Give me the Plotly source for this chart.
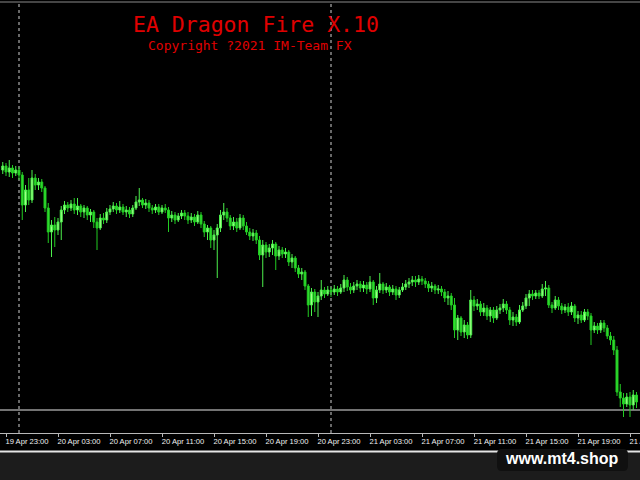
import plotly.graph_objects as go
import pandas as pd

# ---- data (M15 bars) ----
bar_start = "2021-04-19 22:45"
bar_freq = "15min"

opens = [
    1.2030, 1.2034, 1.2028, 1.2032, 1.2027, 1.2030, 1.2025, 1.1995, 1.2010, 1.2000,
    1.2022, 1.2015, 1.2018, 1.2012, 1.1992, 1.1968, 1.1975, 1.1970, 1.1978, 1.1990,
    1.1995, 1.1992, 1.1996, 1.1990, 1.1994, 1.1988, 1.1992, 1.1985, 1.1988, 1.1978,
    1.1972, 1.1982, 1.1980, 1.1988, 1.1991, 1.1994, 1.1990, 1.1993, 1.1988, 1.1990,
    1.1986, 1.1992, 1.1998, 1.2000, 1.1995, 1.1997, 1.1992, 1.1990, 1.1993, 1.1988,
    1.1992, 1.1990, 1.1982, 1.1985, 1.1980, 1.1984, 1.1987, 1.1984, 1.1980, 1.1983,
    1.1978, 1.1985, 1.1976, 1.1968, 1.1972, 1.1960, 1.1965, 1.1972, 1.1985, 1.1988,
    1.1982, 1.1974, 1.1978, 1.1972, 1.1982, 1.1974, 1.1968, 1.1964, 1.1967, 1.1960,
    1.1945, 1.1955, 1.1948, 1.1952, 1.1956, 1.1944, 1.1950, 1.1946, 1.1948, 1.1938,
    1.1942, 1.1932, 1.1926, 1.1928, 1.1914, 1.1895, 1.1908, 1.1898, 1.1904, 1.1910,
    1.1906, 1.1910, 1.1908, 1.1911, 1.1908, 1.1912, 1.1920, 1.1913, 1.1910, 1.1914,
    1.1916, 1.1912, 1.1915, 1.1911, 1.1918, 1.1902, 1.1910, 1.1916, 1.1910, 1.1913,
    1.1908, 1.1911, 1.1905, 1.1910, 1.1913, 1.1916, 1.1918, 1.1920, 1.1918, 1.1921,
    1.1919, 1.1916, 1.1912, 1.1914, 1.1910, 1.1911, 1.1908, 1.1902, 1.1904, 1.1895,
    1.1870, 1.1882, 1.1868, 1.1875, 1.1865, 1.1900, 1.1894, 1.1896, 1.1888, 1.1892,
    1.1884, 1.1890, 1.1882, 1.1890, 1.1892, 1.1896, 1.1890, 1.1880, 1.1883, 1.1878,
    1.1890, 1.1894, 1.1902, 1.1906, 1.1904, 1.1907, 1.1904, 1.1911, 1.1912, 1.1895,
    1.1892, 1.1900, 1.1894, 1.1890, 1.1893, 1.1888, 1.1894, 1.1882, 1.1885, 1.1880,
    1.1888, 1.1884, 1.1870, 1.1874, 1.1870, 1.1877, 1.1872, 1.1864, 1.1860, 1.1850,
    1.1808, 1.1802, 1.1796, 1.1803, 1.1795, 1.1805,
]

highs = [
    1.2038, 1.2037, 1.2040, 1.2035, 1.2034, 1.2033, 1.2028, 1.2015, 1.2022, 1.2030,
    1.2026, 1.2022, 1.2021, 1.2014, 1.1997, 1.1980, 1.1983, 1.1982, 1.1994, 1.1999,
    1.1998, 1.2000, 1.2002, 1.2002, 1.1996, 1.1995, 1.1994, 1.1991, 1.1990, 1.1982,
    1.1986, 1.1987, 1.1992, 1.1995, 1.1998, 1.1997, 1.1999, 1.1996, 1.1994, 1.1993,
    1.1995, 1.2004, 1.2012, 1.2002, 1.2001, 1.2000, 1.1995, 1.1996, 1.1996, 1.1995,
    1.1996, 1.1993, 1.1989, 1.1988, 1.1987, 1.1990, 1.1990, 1.1988, 1.1987, 1.1986,
    1.1989, 1.1988, 1.1979, 1.1975, 1.1974, 1.1970, 1.1976, 1.1990, 1.1997, 1.1992,
    1.1985, 1.1983, 1.1982, 1.1986, 1.1985, 1.1978, 1.1972, 1.1971, 1.1970, 1.1964,
    1.1960, 1.1958, 1.1956, 1.1960, 1.1958, 1.1954, 1.1953, 1.1952, 1.1950, 1.1946,
    1.1944, 1.1935, 1.1932, 1.1930, 1.1916, 1.1912, 1.1911, 1.1908, 1.1920, 1.1913,
    1.1914, 1.1913, 1.1915, 1.1914, 1.1916, 1.1925, 1.1923, 1.1917, 1.1918, 1.1920,
    1.1919, 1.1919, 1.1918, 1.1924, 1.1920, 1.1914, 1.1927, 1.1918, 1.1917, 1.1915,
    1.1915, 1.1914, 1.1913, 1.1917, 1.1920, 1.1922, 1.1924, 1.1924, 1.1925, 1.1924,
    1.1922, 1.1919, 1.1918, 1.1916, 1.1915, 1.1914, 1.1911, 1.1909, 1.1907, 1.1902,
    1.1885, 1.1884, 1.1880, 1.1878, 1.1910, 1.1904, 1.1901, 1.1899, 1.1897, 1.1895,
    1.1893, 1.1893, 1.1894, 1.1896, 1.1901, 1.1899, 1.1893, 1.1888, 1.1886, 1.1895,
    1.1898, 1.1906, 1.1910, 1.1910, 1.1910, 1.1910, 1.1916, 1.1919, 1.1915, 1.1898,
    1.1904, 1.1903, 1.1897, 1.1896, 1.1897, 1.1898, 1.1896, 1.1889, 1.1889, 1.1891,
    1.1891, 1.1887, 1.1878, 1.1877, 1.1880, 1.1880, 1.1875, 1.1868, 1.1864, 1.1854,
    1.1816, 1.1807, 1.1807, 1.1808, 1.1810, 1.1808,
]

lows = [
    1.2026, 1.2024, 1.2023, 1.2022, 1.2024, 1.2020, 1.1980, 1.1988, 1.1995, 1.1997,
    1.2010, 1.2010, 1.2008, 1.1988, 1.1957, 1.1943, 1.1953, 1.1965, 1.1960, 1.1986,
    1.1988, 1.1989, 1.1986, 1.1985, 1.1983, 1.1982, 1.1980, 1.1978, 1.1972, 1.1950,
    1.1970, 1.1976, 1.1977, 1.1985, 1.1988, 1.1986, 1.1987, 1.1985, 1.1983, 1.1982,
    1.1983, 1.1990, 1.1994, 1.1992, 1.1991, 1.1988, 1.1986, 1.1987, 1.1985, 1.1986,
    1.1987, 1.1968, 1.1978, 1.1976, 1.1978, 1.1981, 1.1980, 1.1976, 1.1977, 1.1974,
    1.1976, 1.1972, 1.1963, 1.1960, 1.1952, 1.1950, 1.1922, 1.1968, 1.1980, 1.1978,
    1.1970, 1.1970, 1.1968, 1.1970, 1.1970, 1.1965, 1.1960, 1.1959, 1.1956, 1.1940,
    1.1913, 1.1942, 1.1943, 1.1945, 1.1930, 1.1940, 1.1942, 1.1942, 1.1934, 1.1932,
    1.1928, 1.1922, 1.1920, 1.1910, 1.1883, 1.1884, 1.1888, 1.1883, 1.1900, 1.1902,
    1.1904, 1.1903, 1.1905, 1.1904, 1.1906, 1.1908, 1.1909, 1.1906, 1.1907, 1.1910,
    1.1908, 1.1908, 1.1906, 1.1908, 1.1895, 1.1897, 1.1907, 1.1906, 1.1907, 1.1904,
    1.1905, 1.1900, 1.1902, 1.1908, 1.1910, 1.1912, 1.1914, 1.1913, 1.1915, 1.1915,
    1.1912, 1.1908, 1.1908, 1.1906, 1.1906, 1.1904, 1.1898, 1.1895, 1.1890, 1.1862,
    1.1860, 1.1864, 1.1862, 1.1861, 1.1862, 1.1889, 1.1890, 1.1884, 1.1884, 1.1880,
    1.1878, 1.1877, 1.1880, 1.1886, 1.1888, 1.1886, 1.1875, 1.1874, 1.1874, 1.1876,
    1.1888, 1.1891, 1.1894, 1.1900, 1.1901, 1.1901, 1.1902, 1.1904, 1.1892, 1.1887,
    1.1890, 1.1890, 1.1886, 1.1887, 1.1884, 1.1885, 1.1878, 1.1876, 1.1877, 1.1878,
    1.1880, 1.1855, 1.1867, 1.1866, 1.1867, 1.1868, 1.1861, 1.1855, 1.1845, 1.1804,
    1.1793, 1.1783, 1.1793, 1.1783, 1.1790, 1.1792,
]

closes = [
    1.2034, 1.2028, 1.2032, 1.2027, 1.2030, 1.2025, 1.1995, 1.2010, 1.2000, 1.2022,
    1.2015, 1.2018, 1.2012, 1.1992, 1.1968, 1.1975, 1.1970, 1.1978, 1.1990, 1.1995,
    1.1992, 1.1996, 1.1990, 1.1994, 1.1988, 1.1992, 1.1985, 1.1988, 1.1978, 1.1972,
    1.1982, 1.1980, 1.1988, 1.1991, 1.1994, 1.1990, 1.1993, 1.1988, 1.1990, 1.1986,
    1.1992, 1.1998, 1.2000, 1.1995, 1.1997, 1.1992, 1.1990, 1.1993, 1.1988, 1.1992,
    1.1990, 1.1982, 1.1985, 1.1980, 1.1984, 1.1987, 1.1984, 1.1980, 1.1983, 1.1978,
    1.1985, 1.1976, 1.1968, 1.1972, 1.1960, 1.1965, 1.1972, 1.1985, 1.1988, 1.1982,
    1.1974, 1.1978, 1.1972, 1.1982, 1.1974, 1.1968, 1.1964, 1.1967, 1.1960, 1.1945,
    1.1955, 1.1948, 1.1952, 1.1956, 1.1944, 1.1950, 1.1946, 1.1948, 1.1938, 1.1942,
    1.1932, 1.1926, 1.1928, 1.1914, 1.1895, 1.1908, 1.1898, 1.1904, 1.1910, 1.1906,
    1.1910, 1.1908, 1.1911, 1.1908, 1.1912, 1.1920, 1.1913, 1.1910, 1.1914, 1.1916,
    1.1912, 1.1915, 1.1911, 1.1918, 1.1902, 1.1910, 1.1916, 1.1910, 1.1913, 1.1908,
    1.1911, 1.1905, 1.1910, 1.1913, 1.1916, 1.1918, 1.1920, 1.1918, 1.1921, 1.1919,
    1.1916, 1.1912, 1.1914, 1.1910, 1.1911, 1.1908, 1.1902, 1.1904, 1.1895, 1.1870,
    1.1882, 1.1868, 1.1875, 1.1865, 1.1900, 1.1894, 1.1896, 1.1888, 1.1892, 1.1884,
    1.1890, 1.1882, 1.1890, 1.1892, 1.1896, 1.1890, 1.1880, 1.1883, 1.1878, 1.1890,
    1.1894, 1.1902, 1.1906, 1.1904, 1.1907, 1.1904, 1.1911, 1.1912, 1.1895, 1.1892,
    1.1900, 1.1894, 1.1890, 1.1893, 1.1888, 1.1894, 1.1882, 1.1885, 1.1880, 1.1888,
    1.1884, 1.1870, 1.1874, 1.1870, 1.1877, 1.1872, 1.1864, 1.1860, 1.1850, 1.1808,
    1.1802, 1.1796, 1.1803, 1.1795, 1.1805, 1.1798,
]

tick_times = [
    "2021-04-19 23:00", "2021-04-20 03:00", "2021-04-20 07:00", "2021-04-20 11:00",
    "2021-04-20 15:00", "2021-04-20 19:00", "2021-04-20 23:00", "2021-04-21 03:00",
    "2021-04-21 07:00", "2021-04-21 11:00", "2021-04-21 15:00", "2021-04-21 19:00",
    "2021-04-21 23:00",
]
tick_labels = [
    "19 Apr 23:00", "20 Apr 03:00", "20 Apr 07:00", "20 Apr 11:00",
    "20 Apr 15:00", "20 Apr 19:00", "20 Apr 23:00", "21 Apr 03:00",
    "21 Apr 07:00", "21 Apr 11:00", "21 Apr 15:00", "21 Apr 19:00",
    "21 Apr 23:00",
]
day_separators = ["2021-04-20 00:00", "2021-04-21 00:00"]
level_price = 1.1790
x_range = ["2021-04-19 22:32:18", "2021-04-21 23:46:09"]
y_range = [1.1767, 1.2196]

title_text = "EA Dragon Fire X.10"
subtitle_text = "Copyright ?2021 IM-Team FX"
watermark_text = "www.mt4.shop"

times = pd.date_range(bar_start, periods=len(closes), freq=bar_freq)

W, H = 640, 480


def py(px):
    return 1 - px / H


def px_x(px):
    return px / W


fig = go.Figure()
fig.add_trace(go.Candlestick(
    x=times, open=opens, high=highs, low=lows, close=closes,
    increasing=dict(line=dict(color="#4cf04c", width=1), fillcolor="#a6ff8a"),
    decreasing=dict(line=dict(color="#22cc22", width=1), fillcolor="#33e033"),
    whiskerwidth=0, hoverinfo="skip", showlegend=False,
))

shapes = []
# dark footer below the chart window
shapes.append(dict(type="rect", xref="paper", yref="paper", x0=0, x1=1,
                   y0=0, y1=py(452), fillcolor="#1c1c1c", line=dict(width=0),
                   layer="below"))
# white bottom border
shapes.append(dict(type="line", xref="paper", yref="paper", x0=0, x1=1,
                   y0=py(451.5), y1=py(451.5), line=dict(color="#e6e6e6", width=2)))
# top border
shapes.append(dict(type="line", xref="paper", yref="paper", x0=0, x1=1,
                   y0=py(2), y1=py(2), line=dict(color="#8a8a8a", width=1)))
# day separators
for d in day_separators:
    shapes.append(dict(type="line", xref="x", yref="paper", x0=d, x1=d,
                       y0=py(433), y1=py(4),
                       line=dict(color="#d0d0d0", width=1, dash="dot"),
                       layer="below"))
# horizontal level line
shapes.append(dict(type="line", xref="paper", yref="y", x0=0, x1=1,
                   y0=level_price, y1=level_price,
                   line=dict(color="#9a9a9a", width=1.5), layer="below"))
# watermark box (rounded)
bx0, bx1 = px_x(497), px_x(628)
by0, by1 = py(471), py(449)
rx, ry = 5 / W, 5 / H
path = (f"M {bx0+rx},{by1} L {bx1-rx},{by1} Q {bx1},{by1} {bx1},{by1-ry} "
        f"L {bx1},{by0+ry} Q {bx1},{by0} {bx1-rx},{by0} L {bx0+rx},{by0} "
        f"Q {bx0},{by0} {bx0},{by0+ry} L {bx0},{by1-ry} Q {bx0},{by1} {bx0+rx},{by1} Z")
shapes.append(dict(type="path", xref="paper", yref="paper", path=path,
                   fillcolor="#101010", line=dict(width=0), layer="above"))

annotations = [
    dict(text=title_text, xref="paper", yref="paper", x=px_x(256), y=py(24),
         xanchor="center", yanchor="middle", showarrow=False,
         font=dict(family="DejaVu Sans Mono", size=21.5, color="#e00000")),
    dict(text=subtitle_text, xref="paper", yref="paper", x=px_x(250), y=py(45.5),
         xanchor="center", yanchor="middle", showarrow=False,
         font=dict(family="DejaVu Sans Mono", size=13, color="#e00000")),
    dict(text="<b>" + watermark_text + "</b>", xref="paper", yref="paper",
         x=px_x(562), y=py(458), xanchor="center", yanchor="middle",
         showarrow=False,
         font=dict(family="Liberation Sans", size=16, color="#ffffff")),
]

fig.update_layout(
    width=W, height=H,
    autosize=False,
    margin=dict(l=0, r=0, t=0, b=0, autoexpand=False),
    paper_bgcolor="#000000", plot_bgcolor="#000000",
    showlegend=False,
    boxgap=0.15,
    shapes=shapes, annotations=annotations,
    xaxis=dict(
        type="date", range=x_range, domain=[0, 1],
        automargin=False,
        rangeslider=dict(visible=False),
        showgrid=False, zeroline=False,
        showline=True, linecolor="#b8b8b8", linewidth=1,
        ticks="outside", ticklen=3, tickcolor="#b8b8b8", tickwidth=1,
        tickvals=tick_times, ticktext=tick_labels,
        ticklabelshift=21, ticklabelstandoff=-2, ticklabeloverflow="allow",
        tickfont=dict(family="Liberation Sans", size=7.6, color="#f0f0f0"),
        fixedrange=True,
    ),
    yaxis=dict(
        range=y_range, domain=[py(433), py(4)],
        automargin=False,
        showgrid=False, zeroline=False, showticklabels=False,
        showline=False, ticks="", fixedrange=True,
    ),
)

post_js = (
    "document.documentElement.style.margin='0';"
    "document.body.style.margin='0';"
    "document.body.style.padding='0';"
    "document.body.style.overflow='hidden';"
    "document.documentElement.style.overflow='hidden';"
)

fig.write_html(
    "out.html",
    config={"responsive": False, "displayModeBar": False},
    post_script=post_js,
)
